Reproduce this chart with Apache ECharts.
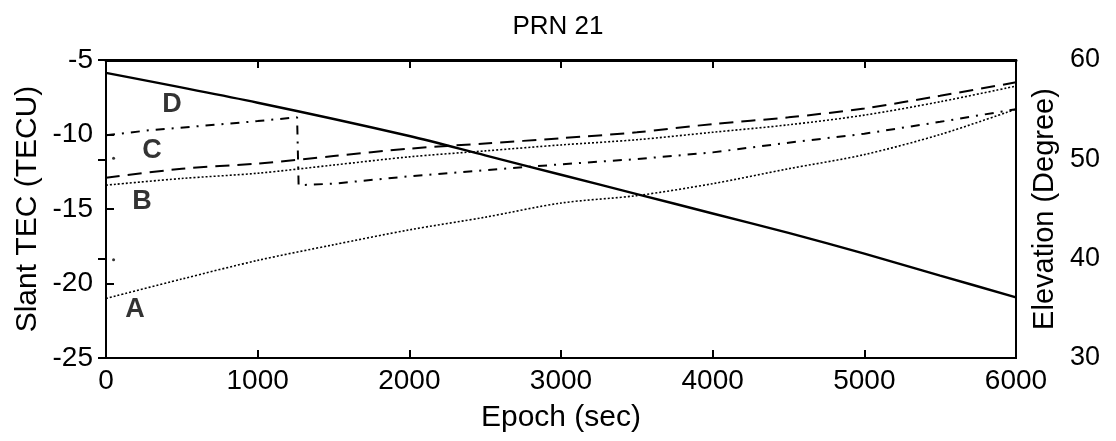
<!DOCTYPE html>
<html><head><meta charset="utf-8">
<script src="https://cdn.jsdelivr.net/npm/echarts@6/dist/echarts.min.js"></script>
<style>html,body{margin:0;padding:0;background:#fff}#c{width:1116px;height:441px}</style>
</head><body><div id="c"></div>
<script>
const epochs = [0, 500, 1000, 1500, 2000, 2500, 3000, 3500, 4000, 4500, 5000, 5500, 6000];
const seriesA = [-21.0, -19.7, -18.45, -17.4, -16.4, -15.55, -14.6, -14.1, -13.3, -12.3, -11.35, -10.0, -8.3];
const seriesB = [-13.4, -12.95, -12.6, -12.05, -11.5, -11.1, -10.7, -10.35, -9.85, -9.35, -8.7, -7.8, -6.75];
const seriesLongDash = [-12.9, -12.3, -11.95, -11.45, -10.95, -10.6, -10.25, -9.85, -9.3, -8.85, -8.25, -7.4, -6.5];
const epochsC = [0, 300, 600, 1000, 1260, 1270, 1500, 2000, 2500, 3000, 3500, 4000, 4500, 5000, 5500, 6000];
const seriesC = [-10.05, -9.7, -9.45, -9.1, -8.85, -13.4, -13.3, -12.8, -12.4, -12.0, -11.65, -11.2, -10.55, -9.95, -9.15, -8.3];
const epochsD = [0, 1000, 2000, 2500, 3000, 3500, 4000, 4500, 5000, 5500, 6000];
const elevationD = [58.7, 55.7, 52.35, 50.4, 48.45, 46.5, 44.55, 42.6, 40.5, 38.3, 36.1];
const strayDots = [[50, -18.4], [50, -11.6]];
const curveNames = ['A', 'B', 'C', 'D'];
const labelEpochs = [191, 237, 303, 435];
const labelTec = [-21.76, -14.5, -11.08, -7.97];

const zip = (xs, ys) => xs.map((x, i) => [x, ys[i]]);
const font = "'Liberation Sans',Arial,sans-serif";
const tick = { show: true, inside: true, length: 8, lineStyle: { color: '#000', width: 2 } };
const axLine = { show: true, lineStyle: { color: '#000', width: 2 } };
const chart = echarts.init(document.getElementById('c'));
chart.setOption({
  animation: false,
  backgroundColor: '#fff',
  title: { text: 'PRN 21', left: 'center', top: 9, textStyle: { fontFamily: font, fontSize: 26, fontWeight: 'normal', color: '#000' } },
  grid: { left: 106, right: 100, top: 60, bottom: 83, containLabel: false, outerBoundsMode: 'none',
    show: true, borderColor: '#000', borderWidth: 2, backgroundColor: 'transparent' },
  xAxis: [{
    type: 'value', min: 0, max: 6000, interval: 1000, position: 'bottom',
    name: 'Epoch (sec)', nameLocation: 'middle', nameGap: 45, nameMoveOverlap: false,
    nameTextStyle: { fontFamily: font, fontSize: 30, color: '#000' },
    axisLine: axLine, axisTick: tick,
    axisLabel: { fontFamily: font, fontSize: 28, color: '#000', margin: 9, formatter: v => String(v) },
    splitLine: { show: false }
  }, {
    type: 'value', min: 0, max: 6000, interval: 1000, position: 'top',
    axisLine: { show: true, lineStyle: { color: '#000', width: 3 } }, axisTick: tick,
    axisLabel: { show: false }, splitLine: { show: false }
  }],
  yAxis: [{
    type: 'value', min: -25, max: -5, interval: 5, position: 'left',
    name: 'Slant TEC (TECU)', nameLocation: 'middle', nameGap: 63, nameRotate: 90, nameMoveOverlap: false,
    nameTextStyle: { fontFamily: font, fontSize: 30, color: '#000' },
    axisLine: axLine, axisTick: tick,
    axisLabel: { fontFamily: font, fontSize: 28, color: '#000', margin: 13, formatter: v => String(v) },
    splitLine: { show: false }
  }, {
    type: 'value', min: 30, max: 60, interval: 10, position: 'right',
    name: 'Elevation (Degree)', nameLocation: 'middle', nameGap: 14, nameRotate: 90, nameMoveOverlap: false,
    nameTextStyle: { fontFamily: font, fontSize: 29, color: '#000' },
    axisLine: axLine, axisTick: tick,
    axisLabel: { fontFamily: font, fontSize: 27, color: '#000', margin: 54 },
    splitLine: { show: false }
  }],
  series: [
    { name: 'A', type: 'line', yAxisIndex: 0, data: zip(epochs, seriesA), showSymbol: false, smooth: 0.3,
      lineStyle: { color: '#000', width: 1.6, type: [2, 2] } },
    { name: 'B', type: 'line', yAxisIndex: 0, data: zip(epochs, seriesB), showSymbol: false, smooth: 0.3,
      lineStyle: { color: '#000', width: 1.6, type: [2, 2] } },
    { name: 'E', type: 'line', yAxisIndex: 0, data: zip(epochs, seriesLongDash), showSymbol: false, smooth: 0.3,
      lineStyle: { color: '#000', width: 2, type: [14, 8] } },
    { name: 'C', type: 'line', yAxisIndex: 0, data: zip(epochsC, seriesC), showSymbol: false,
      lineStyle: { color: '#000', width: 2, type: [9, 7, 2, 7] } },
    { name: 'D', type: 'line', yAxisIndex: 1, data: zip(epochsD, elevationD), showSymbol: false, smooth: 0.3,
      lineStyle: { color: '#000', width: 2.4 } },
    { name: 'dots', type: 'scatter', yAxisIndex: 0, data: strayDots, symbolSize: 3, itemStyle: { color: '#000' }, silent: true },
    { name: 'labels', type: 'scatter', yAxisIndex: 0, symbolSize: 0, silent: true,
      data: labelEpochs.map((e, i) => ({ value: [e, labelTec[i]], label: { show: true, formatter: curveNames[i] } })),
      label: { position: 'inside', fontFamily: font, fontSize: 27, fontWeight: 'bold', color: '#000' } }
  ]
});
</script></body></html>
